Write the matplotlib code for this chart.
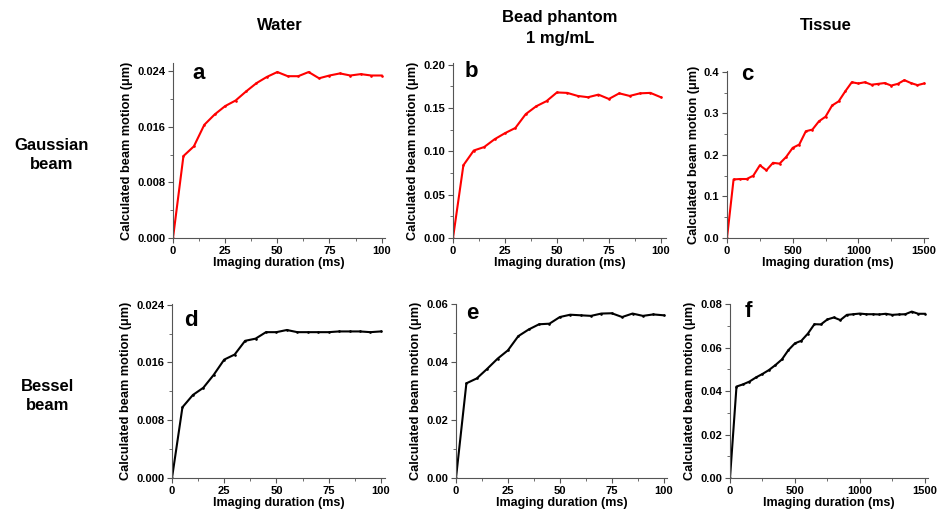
import matplotlib.pyplot as plt
from matplotlib.ticker import AutoMinorLocator
import numpy as np

plt.rcParams['font.family'] = ['Liberation Sans', 'DejaVu Sans']
plt.rcParams['font.weight'] = 'bold'

# imaging duration (ms)
t_short = np.arange(0, 101, 5)
t_long = np.arange(0, 1501, 50)

# Gaussian beam
water_gauss = [0, 0.0118, 0.0132, 0.0163, 0.0178, 0.0190, 0.0198, 0.0211, 0.0223, 0.0232, 0.0239,
               0.0233, 0.0233, 0.0239, 0.0230, 0.0234, 0.0237, 0.0234, 0.0236, 0.0234, 0.0234]
bead_gauss = [0, 0.084, 0.101, 0.105, 0.114, 0.121, 0.127, 0.143, 0.152, 0.158, 0.168,
              0.1675, 0.164, 0.1625, 0.1655, 0.1605, 0.167, 0.164, 0.167, 0.1675, 0.1625]
tissue_gauss = [0, 0.141, 0.142, 0.142, 0.150, 0.175, 0.163, 0.181, 0.179, 0.195, 0.217,
                0.225, 0.257, 0.261, 0.281, 0.292, 0.319, 0.329, 0.353, 0.375, 0.372,
                0.375, 0.369, 0.371, 0.373, 0.367, 0.371, 0.380, 0.373, 0.368, 0.372]

# Bessel beam
water_bessel = [0, 0.0098, 0.0115, 0.0125, 0.0143, 0.0164, 0.0171, 0.0190, 0.0193, 0.0202, 0.0202,
                0.0205, 0.0202, 0.0202, 0.0202, 0.0202, 0.0203, 0.0203, 0.0203, 0.0202, 0.0203]
bead_bessel = [0, 0.0327, 0.0344, 0.0377, 0.0412, 0.0441, 0.0490, 0.0513, 0.0531, 0.0533, 0.0556,
               0.0564, 0.0562, 0.0560, 0.0568, 0.0569, 0.0556, 0.0568, 0.0560, 0.0565, 0.0562]
tissue_bessel = [0, 0.0421, 0.0431, 0.0444, 0.0463, 0.0479, 0.0497, 0.0520, 0.0546, 0.0589, 0.0620,
                 0.0632, 0.0665, 0.0708, 0.0707, 0.0730, 0.0739, 0.0727, 0.0751, 0.0754, 0.0757,
                 0.0754, 0.0754, 0.0753, 0.0756, 0.0751, 0.0753, 0.0754, 0.0766, 0.0756, 0.0756]

W, H = 941, 518
fig = plt.figure(figsize=(W / 100, H / 100), dpi=100)

# letter, x, y, colour, xmax, ymax, yticks, format, box (l, r, top, bottom px), letter (x frac, top px)
panels = [
    ('a', t_short, water_gauss, 'red', 101.6, 0.0252, [0, 0.008, 0.016, 0.024], '%.3f',
     (173, 385, 63, 238), (0.09, 63)),
    ('b', t_short, bead_gauss, 'red', 102.5, 0.202, [0, 0.05, 0.10, 0.15, 0.20], '%.2f',
     (453, 666, 63, 238), (0.055, 61)),
    ('c', t_long, tissue_gauss, 'red', 1530, 0.402, [0, 0.1, 0.2, 0.3, 0.4], '%.1f',
     (727, 928, 71, 238), (0.07, 64)),
    ('d', t_short, water_bessel, 'black', 102, 0.0241, [0, 0.008, 0.016, 0.024], '%.3f',
     (172, 385, 304, 478), (0.055, 310)),
    ('e', t_short, bead_bessel, 'black', 101.6, 0.0601, [0, 0.02, 0.04, 0.06], '%.2f',
     (456, 667, 304, 478), (0.05, 303)),
    ('f', t_long, tissue_bessel, 'black', 1525, 0.0801, [0, 0.02, 0.04, 0.06, 0.08], '%.2f',
     (730, 928, 304, 478), (0.075, 301)),
]

for letter, x, y, col, xmax, ymax, yt, fmt, (l, r, t, b), (lx, ltop) in panels:
    ax = fig.add_axes([l / W, 1 - b / H, (r - l) / W, (b - t) / H])
    ax.plot(x, y, color=col, linewidth=1.5, marker='o', markersize=0.9)
    ax.set_xlim(0, xmax)
    ax.set_ylim(0, ymax)
    ax.set_yticks(yt)
    ax.set_yticklabels([fmt % v for v in yt])
    if xmax > 200:
        ax.set_xticks([0, 500, 1000, 1500])
    else:
        ax.set_xticks([0, 25, 50, 75, 100])
    ax.xaxis.set_minor_locator(AutoMinorLocator(2))
    ax.yaxis.set_minor_locator(AutoMinorLocator(2))
    ax.spines['top'].set_visible(False)
    ax.spines['right'].set_visible(False)
    ax.spines['left'].set_color('#555555')
    ax.spines['bottom'].set_color('#555555')
    ax.tick_params(which='both', direction='out', color='#555555', labelsize=8, pad=2)
    ax.tick_params(which='major', length=3.5)
    ax.tick_params(which='minor', length=2)
    ax.set_xlabel('Imaging duration (ms)', fontsize=9, fontweight='bold', labelpad=1)
    ax.set_ylabel('Calculated beam motion (\u03bcm)', fontsize=9.2, fontweight='bold', labelpad=3)
    fig.text((l + lx * (r - l)) / W, 1 - ltop / H, letter, fontsize=16, fontweight='bold', va='top')

fig.text(280 / W, 1 - 25 / H, 'Water', fontsize=12, fontweight='bold', ha='center', va='center')
fig.text(560 / W, 1 - 28 / H, 'Bead phantom\n1 mg/mL', fontsize=12, fontweight='bold', ha='center', va='center',
         linespacing=1.5)
fig.text(826 / W, 1 - 25 / H, 'Tissue', fontsize=12, fontweight='bold', ha='center', va='center')
fig.text(52 / W, 1 - 155 / H, 'Gaussian\nbeam', fontsize=12, fontweight='bold', ha='center', va='center',
         linespacing=1.3)
fig.text(48 / W, 1 - 396 / H, 'Bessel\nbeam', fontsize=12, fontweight='bold', ha='center', va='center',
         linespacing=1.35)

fig.savefig('out.png', dpi=100)
